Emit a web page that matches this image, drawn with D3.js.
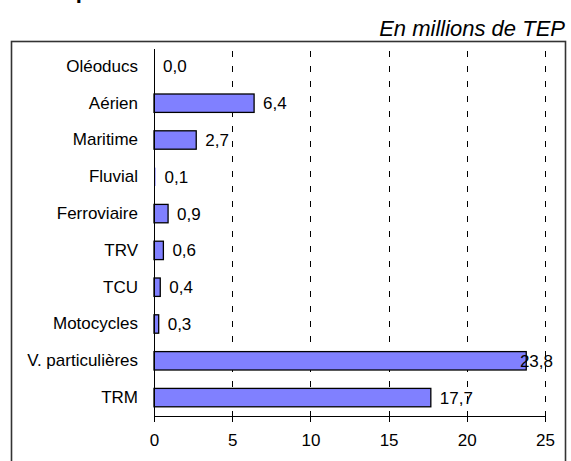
<!DOCTYPE html>
<html>
<head>
<meta charset="utf-8">
<script src="https://cdn.jsdelivr.net/npm/d3@7"></script>
<style>
  body { margin: 0; background: #fff; }
  svg { display: block; font-family: "Liberation Sans", Arial, sans-serif; }
</style>
</head>
<body>
<svg width="571" height="461"></svg>
<script>
// chart values
const categories = ["Oléoducs", "Aérien", "Maritime", "Fluvial", "Ferroviaire", "TRV", "TCU", "Motocycles", "V. particulières", "TRM"];
const values = [0.0, 6.4, 2.7, 0.1, 0.9, 0.6, 0.4, 0.3, 23.8, 17.7];
const tickValues = [0, 5, 10, 15, 20, 25];
const unitLabel = "En millions de TEP";
const titleText = "Transports";

let svg = d3.select("svg");
let margin = { left: 154, right: 545, top: 48, bottom: 416 };

let x = d3.scaleLinear().domain([0, 25]).range([margin.left, margin.right]);
let y = d3.scaleBand().domain(categories).range([margin.top, margin.bottom])
  .paddingInner(0.5).paddingOuter(0.25);

let fmt = v => d3.format(".1f")(v).replace(".", ",");

// cropped title at the very top
svg.append("text")
  .attr("x", 17).attr("y", -1.6)
  .style("font-weight", "bold").style("font-size", "22px")
  .text(titleText);

// unit label
svg.append("text")
  .attr("x", 565).attr("y", 35.5)
  .attr("text-anchor", "end")
  .style("font-style", "italic").style("font-size", "22px")
  .text(unitLabel);

// chart frame (bottom edge runs off the picture)
svg.append("rect")
  .attr("x", 11.5).attr("y", 41.5)
  .attr("width", 554).attr("height", 440)
  .attr("fill", "none").attr("stroke", "#333").attr("stroke-width", 1.6);

// dashed gridlines
svg.append("g")
  .selectAll("line")
  .data(tickValues.filter(d => d > 0))
  .enter()
  .append("line")
  .attr("x1", d => Math.round(x(d)) + 0.5).attr("x2", d => Math.round(x(d)) + 0.5)
  .attr("y1", margin.top + 3).attr("y2", margin.bottom)
  .attr("stroke", "#000").attr("stroke-width", 1)
  .attr("stroke-dasharray", "6,9");

// bars
svg.append("g")
  .selectAll("rect")
  .data(values)
  .enter()
  .append("rect")
  .attr("x", x(0))
  .attr("y", (d, i) => y(categories[i]))
  .attr("width", d => x(d) - x(0))
  .attr("height", y.bandwidth())
  .attr("fill", "#8080ff")
  .attr("stroke", "#000")
  .attr("stroke-width", d => d > 0.2 ? 1.3 : 0);

// value labels
let labels = svg.append("g")
  .selectAll("text")
  .data(values)
  .enter()
  .append("text")
  .attr("y", (d, i) => y(categories[i]) + y.bandwidth() / 2)
  .attr("dy", "0.35em")
  .style("font-size", "17px")
  .text(d => fmt(d));

labels.attr("x", function(d) {
  let w = this.getComputedTextLength();
  return Math.min(x(d) + 9, x(25) + 8 - w);
});

// x axis
let xAxis = svg.append("g")
  .attr("transform", `translate(0,${margin.bottom})`)
  .call(d3.axisBottom(x).tickValues(tickValues).tickSize(6).tickSizeOuter(0).tickPadding(12).tickFormat(d3.format("d")));
xAxis.selectAll("text").style("font-size", "17px").attr("fill", "#000");
xAxis.selectAll("line, path").attr("stroke", "#000").style("shape-rendering", "crispEdges");
xAxis.style("font-family", null);

// y axis with category names
let yAxis = svg.append("g")
  .attr("transform", `translate(${margin.left},0)`)
  .call(d3.axisLeft(y).tickSize(0).tickSizeOuter(0).tickPadding(16));
yAxis.selectAll("text").style("font-size", "17px").attr("fill", "#000");
yAxis.select(".domain").attr("stroke", "#000").style("shape-rendering", "crispEdges");
yAxis.style("font-family", null);
</script>
</body>
</html>
